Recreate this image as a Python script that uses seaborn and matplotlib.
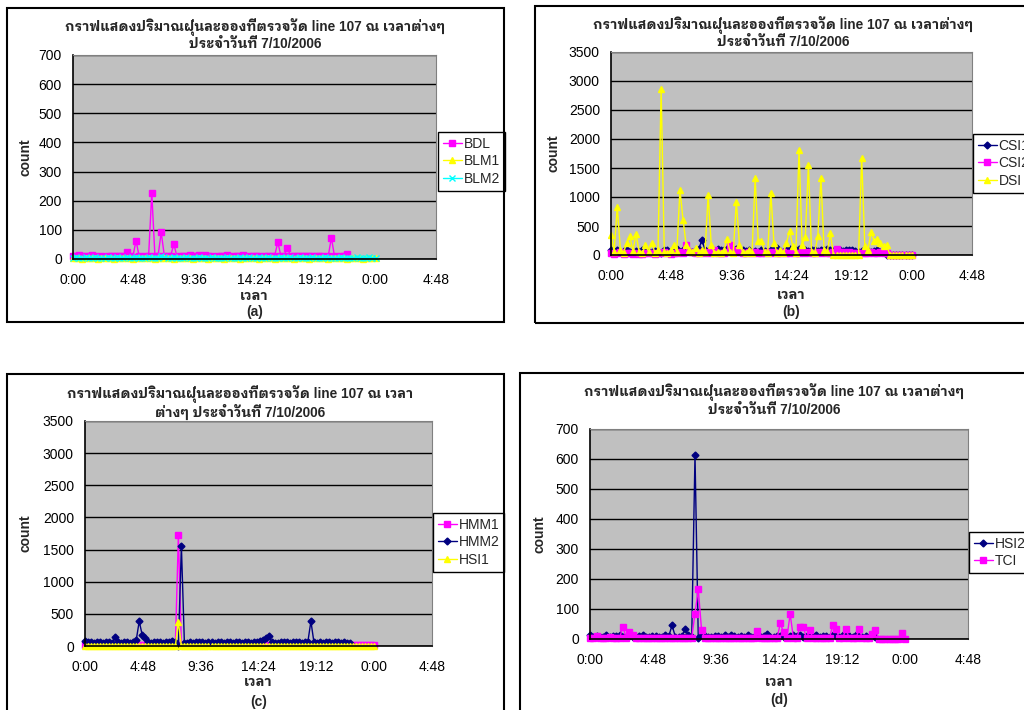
import numpy as np
import pandas as pd
import seaborn as sns
from matplotlib import pyplot as plt
from matplotlib import font_manager
from matplotlib.patches import Rectangle

nan = np.nan

# one reading every 15 minutes, 0:00 .. 24:00
sample_minutes = list(range(0, 24 * 60 + 1, 15))
tick_pos = [0, 0.2, 0.4, 0.6, 0.8, 1.0, 1.2]
tick_labels = ["0:00", "4:48", "9:36", "14:24", "19:12", "0:00", "4:48"]

title_a = ["กราฟแสดงปริมาณฝุ่นละอองที่ตรวจวัด line 107 ณ เวลาต่างๆ", "ประจำวันที่ 7/10/2006"]
title_c = ["กราฟแสดงปริมาณฝุ่นละอองที่ตรวจวัด line 107 ณ เวลา", "ต่างๆ ประจำวันที่ 7/10/2006"]

# ---- (a)
BDL = [10, 12, 15, 11, 10, 9, 13, 10, 8, 10, 7, 9,
       10, 11, 9, 12, 10, 25, 9, 8, 63, 9, 8, 12,
       11, 227, 10, 12, 91, 10, 9, 11, 51, 8, 9, 10,
       11, 14, 9, 10, 13, 8, 15, 9, 10, 8, 12, 10,
       9, 13, 8, 10, 11, 9, 14, 8, 10, 12, 9, 10,
       8, 11, 10, 9, 12, 57, 10, 11, 39, 12, 10, 11,
       9, 12, 10, 9, 11, 10, 9, 12, 8, 10, 73, 9,
       8, 10, 9, 16, nan, nan, nan, nan, nan, nan, nan, nan,
       nan]
BLM1 = [2, 3, 2, 1, 3, 2, 2, 3, 1, 2, 3, 2,
        2, 1, 3, 2, 2, 3, 2, 1, 2, 3, 2, 2,
        3, 2, 1, 2, 3, 2, 2, 3, 1, 2, 2, 3,
        2, 2, 1, 3, 2, 2, 3, 1, 2, 2, 3, 2,
        1, 2, 3, 2, 2, 1, 3, 2, 2, 3, 2, 1,
        2, 3, 2, 2, 1, 3, 2, 2, 3, 2, 1, 2,
        3, 2, 2, 1, 3, 2, 2, 3, 2, 1, 2, 3,
        2, 2, 3, 1, 2, 2, 3, 2, 1, 2, 2, 3,
        2]
BLM2 = [5, 6, 4, 5, 6, 5, 4, 6, 5, 5, 4, 6,
        5, 4, 6, 5, 5, 6, 4, 5, 6, 5, 4, 5,
        6, 5, 4, 5, 12, 6, 5, 4, 6, 5, 5, 4,
        6, 5, 4, 5, 6, 5, 5, 4, 6, 5, 4, 5,
        5, 6, 4, 5, 5, 6, 4, 5, 6, 5, 4, 6,
        5, 4, 6, 5, 5, 4, 6, 5, 5, 6, 4, 5,
        6, 5, 4, 5, 6, 5, 4, 5, 6, 5, 5, 4,
        5, 6, 4, 5, 5, 4, 6, 5, 4, 5, 6, 5,
        4]

# ---- (b)
CSI1 = [80, 70, 90, 60, 70, 80, 60, 50, 70, 60, 80, 70,
        60, 50, 70, 60, 40, 80, 90, 60, 70, 100, 60, 80,
        90, 70, 60, 80, 100, 258, 90, 70, 80, 60, 100, 90,
        80, 110, 120, 90, 100, 80, 90, 70, 80, 60, 70, 60,
        80, 70, 60, 90, 80, 120, 70, 60, 80, 100, 70, 90,
        100, 80, 90, 70, 80, 90, 70, 80, 90, 100, 80, 70,
        90, 80, 70, 80, 90, 80, 70, 60, 70, 80, 70, 60,
        70, 80, 60, 70, 5, 5, 5, 5, 5, 5, 5, 5,
        5]
CSI2 = [40, 20, 30, 50, 20, 30, 40, 20, 30, 10, 20, 30,
        40, 30, 20, 40, 30, 50, 30, 20, 40, 30, 60, 40,
        180, 60, 50, 40, 30, 60, 40, 50, 30, 80, 40, 30,
        40, 60, 180, 80, 60, 50, 40, 30, 60, 40, 50, 30,
        40, 30, 50, 40, 60, 30, 40, 50, 30, 40, 60, 30,
        40, 50, 30, 60, 40, 30, 50, 40, 60, 30, 40, 50,
        100, 60, 50, 40, 50, 40, 30, 40, 30, 40, 30, 50,
        40, 30, 50, 40, 30, 5, 0, 0, 0, 0, 0, 0,
        0]
DSI = [350, 60, 830, 90, 40, 212, 327, 70, 362, 50, 30, 172,
       60, 212, 40, 90, 2860, 60, 30, 80, 170, 60, 1120, 603,
       170, 90, 60, 120, 40, 80, 50, 1034, 170, 40, 60, 30,
       80, 275, 50, 30, 920, 175, 60, 40, 90, 30, 1322, 240,
       240, 60, 30, 1075, 210, 40, 80, 30, 210, 420, 150, 40,
       1810, 170, 316, 1552, 60, 40, 327, 1333, 80, 50, 374, 0,
       0, 0, 0, 0, 0, 0, 0, 0, 1678, 150, 90, 400,
       240, 280, 200, 150, 170, 0, 0, 0, 0, 0, 0, 0,
       0]

# ---- (c)
HMM1 = [10, 12, 8, 10, 11, 9, 10, 12, 8, 10, 11, 9,
        10, 12, 8, 10, 11, 9, 10, 12, 8, 10, 11, 9,
        10, 12, 8, 10, 11, 9, 10, 1720, 8, 10, 11, 9,
        10, 12, 8, 10, 11, 9, 10, 12, 8, 10, 11, 9,
        10, 12, 8, 10, 11, 9, 10, 12, 8, 10, 11, 9,
        10, 12, 8, 10, 11, 9, 10, 12, 8, 10, 11, 9,
        10, 12, 8, 10, 11, 9, 10, 12, 8, 10, 11, 9,
        10, 12, 8, 10, 15, 15, 15, 15, 15, 15, 15, 15,
        15]
HMM2 = [80, 60, 70, 50, 70, 60, 50, 60, 70, 50, 135, 60,
        50, 70, 60, 40, 60, 90, 385, 170, 120, 60, 40, 60,
        70, 60, 50, 70, 60, 80, 70, 0, 1555, 40, 50, 60,
        50, 60, 70, 60, 50, 70, 60, 50, 60, 70, 50, 60,
        60, 50, 70, 60, 50, 60, 70, 50, 60, 70, 80, 90,
        120, 150, 60, 40, 50, 70, 60, 70, 50, 60, 70, 60,
        50, 60, 70, 385, 60, 50, 60, 50, 60, 70, 50, 60,
        70, 50, 60, 50, 40, nan, nan, nan, nan, nan, nan, nan,
        nan]
HSI1 = [3, 1, 2, 4, 2, 1, 3, 2, 1, 2, 4, 2,
        1, 3, 2, 1, 2, 3, 4, 2, 1, 3, 2, 1,
        2, 4, 1, 2, 3, 1, 2, 370, 3, 1, 2, 4,
        2, 1, 3, 2, 1, 2, 4, 2, 1, 3, 2, 1,
        2, 3, 1, 2, 4, 2, 1, 3, 2, 1, 2, 3,
        4, 2, 1, 3, 2, 1, 2, 4, 1, 2, 3, 1,
        2, 3, 4, 2, 1, 3, 2, 1, 2, 4, 2, 1,
        3, 2, 1, 2, 0, 0, 0, 0, 0, 0, 0, 0,
        0]

# ---- (d)
HSI2 = [15, 8, 10, 6, 8, 12, 7, 9, 10, 14, 8, 6,
        10, 8, 7, 9, 12, 8, 6, 10, 9, 7, 8, 12,
        9, 46, 8, 6, 10, 32, 12, 8, 613, 2, 14, 10,
        8, 6, 9, 10, 7, 12, 8, 15, 10, 6, 9, 8,
        12, 7, 8, 10, 6, 9, 17, 8, 7, 10, 9, 6,
        8, 10, 12, 9, 14, 7, 10, 8, 9, 12, 6, 10,
        9, 8, 12, 10, 7, 15, 20, 9, 8, 12, 10, 7,
        9, 8, 10, 6, nan, nan, nan, nan, nan, nan, nan, nan,
        nan]
TCI = [3, 5, 10, 4, 2, 3, 6, 4, 3, 2, 41, 4,
       25, 14, 3, 4, 2, 5, 3, 4, 2, 3, 5, 4,
       3, 2, 4, 3, 5, 2, 3, 4, 85, 166, 30, 4,
       3, 2, 4, 5, 3, 2, 4, 3, 2, 5, 3, 4,
       2, 3, 4, 27, 3, 2, 4, 3, 5, 2, 52, 22,
       4, 83, 3, 2, 41, 39, 3, 30, 2, 4, 3, 5,
       3, 4, 46, 32, 2, 3, 32, 4, 3, 2, 32, 4,
       3, 5, 17, 30, 0, 0, 0, 0, 0, 0, 0, 21,
       0]

NAVY = "#000080"
MAGENTA = "#FF00FF"
YELLOW = "#FFFF00"
CYAN = "#00FFFF"
STYLE = {NAVY: ("D", 3.5), MAGENTA: ("s", 4), YELLOW: ("^", 5), CYAN: ("x", 4)}

sns.set_style("white")
# a Thai family that ships a static bold file
thai = []
for fam in ["IBM Plex Sans Thai Looped", "Noto Sans Thai Looped", "Sarabun",
            "Noto Sans Thai", "IBM Plex Sans Thai", "Bai Jamjuree"]:
    for f in font_manager.fontManager.ttflist:
        if f.name == fam and str(f.weight) in ("700", "bold") and "[" not in f.fname:
            thai.append(fam)
            break
    if thai:
        break
plt.rcParams["font.family"] = ["Liberation Sans"] + thai + ["DejaVu Sans"]

W, H = 1024, 710
fig = plt.figure(figsize=(W / 100, H / 100), dpi=100)
days = np.array(sample_minutes) / 1440.0


def px_box(left, top, right, bottom):
    return [left / W, 1 - bottom / H, (right - left) / W, (bottom - top) / H]


def panel(rect, series, ymax, ystep, title, title_x, title_y, leg_xy, ylab_x, xlab_y, letter, letter_y):
    left, top, right, bottom = rect
    ax = fig.add_axes(px_box(left, top, right, bottom))
    ax.set_facecolor("#C0C0C0")
    for name, vals, color in series:
        m, ms = STYLE[color]
        sns.lineplot(x=days, y=np.array(vals, dtype=float), ax=ax, color=color,
                     marker=m, markersize=ms, markeredgecolor=color, markeredgewidth=1,
                     linewidth=1, label=name, estimator=None, clip_on=False)
    ax.set_xlim(0, 1.2)
    ax.set_ylim(0, ymax)
    ax.set_xticks(tick_pos)
    ax.set_xticklabels(tick_labels)
    ax.set_yticks(np.arange(0, ymax + 1, ystep))
    ax.yaxis.grid(True, color="black", linewidth=1)
    ax.set_axisbelow(True)
    for s in ["top", "right"]:
        ax.spines[s].set_color("#808080")
    for s in ["left", "bottom"]:
        ax.spines[s].set_color("black")
        ax.spines[s].set_linewidth(1.2)
    ax.tick_params(direction="out", length=5, width=1, colors="black", labelsize=10)
    ax.tick_params(axis="x", pad=5)
    ax.tick_params(axis="y", pad=3)
    ax.set_ylabel("count", fontsize=10, fontweight="bold", va="center")
    ax.yaxis.set_label_coords((ylab_x - left) / (right - left), 0.5)
    ax.set_xlabel("เวลา", fontsize=10, fontweight="bold", va="center")
    ax.xaxis.set_label_coords(0.5, (bottom - xlab_y) / (bottom - top))
    ax.text(0.5, (bottom - letter_y) / (bottom - top), letter, transform=ax.transAxes,
            ha="center", va="center", fontsize=10, fontweight="bold")
    for i, line in enumerate(title):
        fig.text(title_x / W, 1 - (title_y + 17.5 * i) / H, line, ha="center", va="center",
                 fontsize=9.8, fontweight="bold")
    ax.legend(loc="upper left", bbox_to_anchor=(leg_xy[0] / W, 1 - leg_xy[1] / H),
              bbox_transform=fig.transFigure, frameon=True, fancybox=False,
              edgecolor="black", framealpha=1, borderaxespad=0, fontsize=10,
              handlelength=1.35, labelspacing=0.25, borderpad=0.35, handletextpad=0.15)
    return ax


def border(left, top, right, bottom):
    fig.add_artist(Rectangle((left / W, 1 - bottom / H), (right - left) / W, (bottom - top) / H,
                             transform=fig.transFigure, fill=False, edgecolor="black",
                             linewidth=1.5))


border(7, 8, 504, 322)
border(535, 6, 1060, 323)
border(7, 374, 504, 740)
border(520, 373, 1060, 740)

panel((73, 55, 436, 259), [("BDL", BDL, MAGENTA), ("BLM1", BLM1, YELLOW), ("BLM2", BLM2, CYAN)],
      700, 100, title_a, 255, 27, (438, 132), 25, 296, "(a)", 312)
panel((611, 52, 972, 255), [("CSI1", CSI1, NAVY), ("CSI2", CSI2, MAGENTA), ("DSI", DSI, YELLOW)],
      3500, 500, title_a, 783, 25, (973, 134), 553, 295, "(b)", 312)
panel((85, 421, 432, 646), [("HMM1", HMM1, MAGENTA), ("HMM2", HMM2, NAVY), ("HSI1", HSI1, YELLOW)],
      3500, 500, title_c, 240, 394, (433, 513), 26, 682, "(c)", 702)
panel((590, 429, 968, 639), [("HSI2", HSI2, NAVY), ("TCI", TCI, MAGENTA)],
      700, 100, title_a, 774, 392, (969, 532), 539, 682, "(d)", 700)

fig.savefig("out.png", dpi=100)
